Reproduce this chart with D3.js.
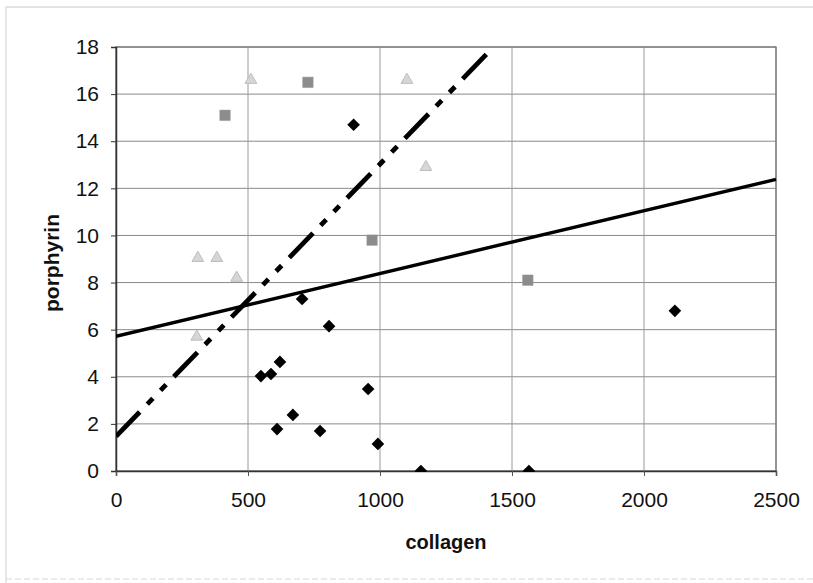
<!DOCTYPE html>
<html><head><meta charset="utf-8">
<script src="https://cdn.jsdelivr.net/npm/d3@7"></script>
<style>html,body{margin:0;padding:0;background:#fff;}svg{display:block;}</style>
</head><body>
<svg id="chart" width="813" height="583"></svg>
<script>
// Series 1: black diamonds
const diamondX = [900, 705, 807, 621, 549, 587, 955, 670, 610, 773, 992, 1155, 1564, 2117];
const diamondY = [14.7, 7.3, 6.15, 4.63, 4.03, 4.12, 3.48, 2.38, 1.78, 1.70, 1.15, 0.0, 0.0, 6.8];
// Series 2: gray squares
const squareX = [413, 727, 970, 1560];
const squareY = [15.1, 16.5, 9.8, 8.1];
// Series 3: light gray triangles
const triX = [511, 1102, 1174, 310, 382, 457, 306];
const triY = [16.6, 16.6, 12.9, 9.04, 9.04, 8.2, 5.7];
// Trend lines (endpoints)
const solidLineX = [0, 2500];
const solidLineY = [5.72, 12.38];
const dashLineX = [0, 1430];
const dashLineY = [1.47, 18];
// Axis ticks
const xTicks = [0, 500, 1000, 1500, 2000, 2500];
const yTicks = [0, 2, 4, 6, 8, 10, 12, 14, 16, 18];

const FONT = "'Liberation Sans', Arial, sans-serif";
const svg = d3.select("#chart");
const L = 116, R = 776, T = 47, B = 471;
const x = d3.scaleLinear().domain([0, 2500]).range([L, R]);
const y = d3.scaleLinear().domain([0, 18]).range([B, T]);

// outer frame
svg.append("line").attr("x1", 6).attr("x2", 813).attr("y1", 7).attr("y2", 7)
  .attr("stroke", "#c8c8c8").attr("stroke-width", 1);
svg.append("line").attr("x1", 6).attr("x2", 6).attr("y1", 7).attr("y2", 583)
  .attr("stroke", "#d0d0d0").attr("stroke-width", 1);
svg.append("line").attr("x1", 6).attr("x2", 813).attr("y1", 579).attr("y2", 579)
  .attr("stroke", "#d8d8d8").attr("stroke-width", 1).attr("stroke-dasharray", "6,3");

// gridlines
const g = svg.append("g");
g.selectAll(".hg").data(yTicks).join("line")
  .attr("x1", L).attr("x2", R).attr("y1", d => y(d)).attr("y2", d => y(d))
  .attr("stroke", "#8a8a8a").attr("stroke-width", 1);
g.selectAll(".vg").data(xTicks).join("line")
  .attr("y1", T).attr("y2", B).attr("x1", d => x(d)).attr("x2", d => x(d))
  .attr("stroke", "#9a9a9a").attr("stroke-width", 1);

// plot border
svg.append("rect").attr("x", L).attr("y", T).attr("width", R - L).attr("height", B - T)
  .attr("fill", "none").attr("stroke", "#777").attr("stroke-width", 1.3);

// axes
const yAxis = d3.axisLeft(y).tickValues(yTicks).tickSize(5).tickPadding(12).tickFormat(d3.format("d"));
const ya = svg.append("g").attr("transform", `translate(${L},0)`).call(yAxis);
ya.select(".domain").attr("stroke", "#333").attr("stroke-width", 1.5);
ya.selectAll(".tick line").attr("stroke", "#333");
ya.selectAll("text").style("font-family", FONT)
  .style("font-size", "21px").attr("fill", "#111");

const xAxis = d3.axisBottom(x).tickValues(xTicks).tickSize(5).tickPadding(16).tickFormat(d3.format("d"));
const xa = svg.append("g").attr("transform", `translate(0,${B})`).call(xAxis);
xa.select(".domain").attr("stroke", "#333").attr("stroke-width", 1.5);
xa.selectAll(".tick line").attr("stroke", "#555");
xa.selectAll("text").style("font-family", FONT)
  .style("font-size", "21px").attr("fill", "#111");

// axis titles
svg.append("text").attr("x", (L + R) / 2).attr("y", 549).attr("text-anchor", "middle")
  .style("font-family", FONT).style("font-weight", "bold")
  .style("font-size", "20px").attr("fill", "#111").text("collagen");
svg.append("text").attr("transform", `translate(59,263) rotate(-90)`)
  .attr("text-anchor", "middle")
  .style("font-family", FONT).style("font-weight", "bold")
  .style("font-size", "21px").attr("fill", "#111").text("porphyrin");

// clip for lines
svg.append("clipPath").attr("id", "clip").append("rect")
  .attr("x", L).attr("y", T - 1).attr("width", R - L + 1).attr("height", B - T + 2);

const lineGen = d3.line().x(d => x(d[0])).y(d => y(d[1]));
const plot = svg.append("g").attr("clip-path", "url(#clip)");

// markers
const sym = d3.symbol();
plot.selectAll(".tri").data(d3.zip(triX, triY)).join("path")
  .attr("transform", d => `translate(${x(d[0])},${y(d[1])})`)
  .attr("d", sym.type(d3.symbolTriangle).size(60)())
  .attr("fill", "#d6d6d6").attr("stroke", "#bdbdbd").attr("stroke-width", 1);
plot.selectAll(".sq").data(d3.zip(squareX, squareY)).join("path")
  .attr("transform", d => `translate(${x(d[0])},${y(d[1])})`)
  .attr("d", sym.type(d3.symbolSquare).size(110)())
  .attr("fill", "#8c8c8c").attr("stroke", "#999").attr("stroke-width", 0.5);
plot.selectAll(".dia").data(d3.zip(diamondX, diamondY)).join("path")
  .attr("transform", d => `translate(${x(d[0])},${y(d[1])}) rotate(45)`)
  .attr("d", sym.type(d3.symbolSquare).size(80)())
  .attr("fill", "#000");

// trend lines
plot.append("path").datum(d3.zip(solidLineX, solidLineY)).attr("d", lineGen)
  .attr("fill", "none").attr("stroke", "#000").attr("stroke-width", 3.4);
plot.append("path").datum(d3.zip(dashLineX, dashLineY)).attr("d", lineGen)
  .attr("fill", "none").attr("stroke", "#000").attr("stroke-width", 4.8)
  .attr("stroke-dasharray", "34,11,8,11,8,11");
</script>
</body></html>
